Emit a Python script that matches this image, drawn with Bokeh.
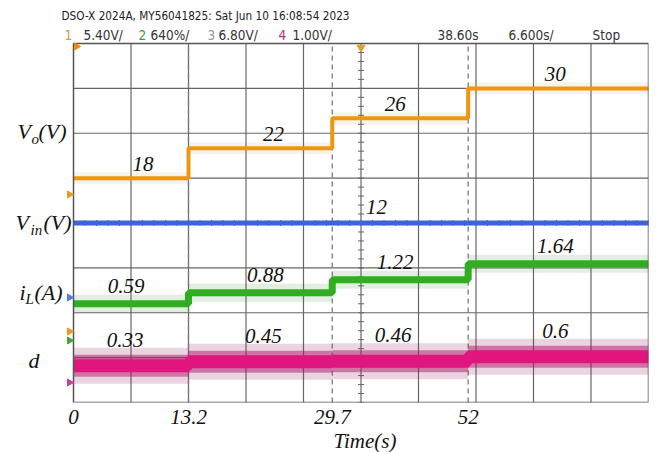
import numpy as np
from bokeh.plotting import figure
from bokeh.models import Range1d, FixedTicker, Title
from bokeh.core.properties import value
from bokeh.embed import file_html
from bokeh.resources import INLINE

# ---------------- data ----------------
step_times = [0.0, 13.2, 29.7, 45.3]      # s, load-step instants as placed on the screen
t_end = 66.0                              # 10 div x 6.6 s/div
vo = [18, 22, 26, 30]                     # output voltage (V)
vin = [12, 12, 12, 12]                    # input voltage (V)
il = [0.59, 0.88, 1.22, 1.64]             # inductor current (A)
duty = [0.33, 0.45, 0.46, 0.6]            # duty cycle
tick_vals = [0.0, 13.2, 29.7, 45.3]
tick_labels = ["0", "13.2", "29.7", "52"]
header1 = "DSO-X 2024A, MY56041825: Sat Jun 10 16:08:54 2023"
header2_text = ["1", "5.40V/", "2", "640%/", "3", "6.80V/", "4", "1.00V/", "38.60s", "6.600s/", "Stop"]
header2_color = ["#c9a24a", "#333333", "#4a9a3a", "#333333", "#8a98b0", "#333333",
                 "#b0307a", "#333333", "#333333", "#333333", "#333333"]

# ---------------- layout / display scaling ----------------
FW, FH = 648, 402              # plotting frame covers the screenshot down to the axis
L, R, T, B = 73, 648, 43, 402  # scope screen rectangle (px)
NDIV_X, NDIV_Y = 10, 8
def X(px):
    return (px - L) * t_end / (R - L)
def Y(py):
    return (B - py) * NDIV_Y / (B - T)
def dYpx(dpx):
    return dpx * NDIV_Y / (B - T)
def dXpx(dpx):
    return dpx * t_end / (R - L)

# channel display: divisions = offset + value / per_div
ch_vo = (2.0, 6.0)
ch_vin = (2.235, 6.8)
ch_il = (1.7, 1.18)
ch_d = (0.576, 1.35)
def to_div(vals, ch):
    off, per = ch
    return [off + v / per for v in vals]

SERIF = "Liberation Serif"
NARROW = "'Liberation Sans Narrow', 'DejaVu Sans Condensed', 'Arial Narrow', sans-serif"
GRID = "#666666"

p = figure(frame_width=FW, frame_height=FH, output_backend="svg", toolbar_location=None,
           x_range=Range1d(X(0), X(FW)), y_range=Range1d(Y(FH), Y(0)),
           y_axis_location=None, min_border=0, min_border_right=8)
p.background_fill_color = "white"
p.border_fill_color = "white"
p.outline_line_color = None
p.grid.visible = False

# x axis with the step-time labels
ax = p.xaxis[0]
ax.ticker = FixedTicker(ticks=tick_vals)
ax.major_label_overrides = {v: s for v, s in zip(tick_vals, tick_labels)}
ax.axis_line_color = None
ax.major_tick_line_color = None
ax.minor_tick_line_color = None
ax.major_label_text_font = SERIF
ax.major_label_text_font_style = "italic"
ax.major_label_text_font_size = "21px"
ax.major_label_text_color = "#111111"
ax.major_label_standoff = 1

p.add_layout(Title(text="Time(s)", align="left", offset=333, standoff=0,
                   text_font=SERIF, text_font_style="italic", text_font_size="21px",
                   text_color="#111111"), "below")

# ---------------- scope screen: grid, border, center cross ----------------
gx = [t_end / NDIV_X * i for i in range(1, NDIV_X)]
gy = list(range(1, NDIV_Y))
p.segment(x0=gx, x1=gx, y0=[0] * len(gx), y1=[NDIV_Y] * len(gx), line_color=GRID, line_width=1.2)
p.segment(x0=[0] * len(gy), x1=[t_end] * len(gy), y0=gy, y1=gy, line_color=GRID, line_width=1.2)

xc, yc = t_end / 2, NDIV_Y / 2
ty = np.arange(0, NDIV_Y + 1e-9, 0.2)
p.segment(x0=[xc - dXpx(3)] * len(ty), x1=[xc + dXpx(3)] * len(ty), y0=ty, y1=ty,
          line_color=GRID, line_width=1)
tx = np.arange(0, t_end + 1e-9, t_end / NDIV_X / 5)
p.segment(x0=tx, x1=tx, y0=[yc - dYpx(3)] * len(tx), y1=[yc + dYpx(3)] * len(tx),
          line_color=GRID, line_width=1)

for t in step_times[1:]:
    p.segment(x0=[t], x1=[t], y0=[0], y1=[NDIV_Y], line_color="#7a7a7a",
              line_dash="5 4", line_width=1.3)

# ---------------- traces ----------------
starts = step_times
ends = step_times[1:] + [t_end]
def step_xy(vals_div):
    return list(step_times) + [t_end], list(vals_div) + [vals_div[-1]]

d_div = to_div(duty, ch_d)
il_div = to_div(il, ch_il)
vin_div = to_div(vin, ch_vin)
vo_div = to_div(vo, ch_vo)

# band width of the noisy scope traces
p.quad(left=starts, right=ends, bottom=[v - dYpx(18) for v in d_div],
       top=[v + dYpx(18) for v in d_div], fill_color="#9a2a6a", fill_alpha=0.2, line_color=None)
p.quad(left=starts, right=ends, bottom=[v - dYpx(11) for v in d_div],
       top=[v + dYpx(11) for v in d_div], fill_color="#b0186a", fill_alpha=0.5, line_color=None)
p.quad(left=starts, right=ends, bottom=[v - dYpx(9) for v in il_div],
       top=[v + dYpx(9) for v in il_div], fill_color="#3a8a30", fill_alpha=0.15, line_color=None)
p.quad(left=starts, right=ends, bottom=[v - dYpx(6) for v in vo_div],
       top=[v + dYpx(6) for v in vo_div], fill_color="#b08a30", fill_alpha=0.10, line_color=None)

xs, ys = step_xy(d_div)
p.step(xs, ys, mode="after", line_color="#e0167e", line_width=13)
xs, ys = step_xy(il_div)
p.step(xs, ys, mode="after", line_color="#2fae1f", line_width=7)
xs, ys = step_xy(vin_div)
p.step(xs, ys, mode="after", line_color="#3d63d6", line_width=5)
xs, ys = step_xy(vo_div)
p.step(xs, ys, mode="after", line_color="#f0960e", line_width=4)

# screen border
p.quad(left=[0], right=[t_end], bottom=[0], top=[NDIV_Y], fill_color=None,
       line_color="#555555", line_width=1.5)

# ---------------- value annotations ----------------
mids = [(a + b) / 2 for a, b in zip(starts, ends)]
def annotate(texts, levels, dy_px, dx_px):
    p.text(x=[m + dXpx(dx) for m, dx in zip(mids, dx_px)],
           y=[lv + dYpx(dy_px) for lv in levels], text=texts,
           text_font=value(SERIF), text_font_style="italic", text_font_size="21px",
           text_align="center", text_baseline="middle", text_color="#111111")
annotate([str(v) for v in vo], vo_div, 14, [12, 13, -5, -3])
annotate([str(v) for v in il], il_div, 18, [-5, 5, -5, -3])
annotate([str(v) for v in duty], d_div, 26, [-6, 3, -7, -3])
p.text(x=[X(376)], y=[vin_div[0] + dYpx(16)], text=[str(vin[0])],
       text_font=value(SERIF), text_font_style="italic", text_font_size="21px",
       text_align="center", text_baseline="middle", text_color="#111111")

# ---------------- markers ----------------
p.scatter(x=[xc], y=[Y(47)], marker="inverted_triangle", size=8, color="#e0a030")
p.scatter(x=[X(76)], y=[Y(46)], marker="triangle", angle=-np.pi / 2, size=7, color="#f08a10")
p.scatter(x=[X(69)] * 5, y=[Y(194), Y(297), Y(331), Y(340), Y(382)], marker="triangle",
          angle=-np.pi / 2, size=7,
          color=["#e89a20", "#5a7ad8", "#e89a20", "#4aa040", "#c040a0"])

# ---------------- left-side signal names (with subscripts) ----------------
names = [("V", 17, 131, "22px"), ("o", 31, 138, "15px"), ("(V)", 38, 131, "22px"),
         ("V", 15, 222, "22px"), ("in", 30, 229, "15px"), ("(V)", 43, 222, "22px"),
         ("i", 19, 292, "22px"), ("L", 25, 298, "15px"), ("(A)", 34, 292, "22px"),
         ("d", 28, 360, "22px")]
for txt, px, py, size in names:
    p.text(x=[X(px)], y=[Y(py)], text=[txt], text_font=value(SERIF), text_font_style="italic",
           text_font_size=size, text_align="left", text_baseline="middle", text_color="#111111")

# ---------------- oscilloscope header ----------------
p.text(x=[X(61)], y=[Y(15)], text=[header1], text_font=value(NARROW), text_font_size="11.7px",
       text_color="#222222", text_align="left", text_baseline="middle")
hx_px = [64, 83, 138, 150, 207, 218, 278, 292, 437, 508, 592]
p.text(x=[X(v) for v in hx_px], y=[Y(34)] * len(hx_px), text=header2_text,
       text_font=value(NARROW), text_font_size="13.5px", text_color=header2_color,
       text_align="left", text_baseline="middle")

open("out.html", "w").write(file_html(p, INLINE))
